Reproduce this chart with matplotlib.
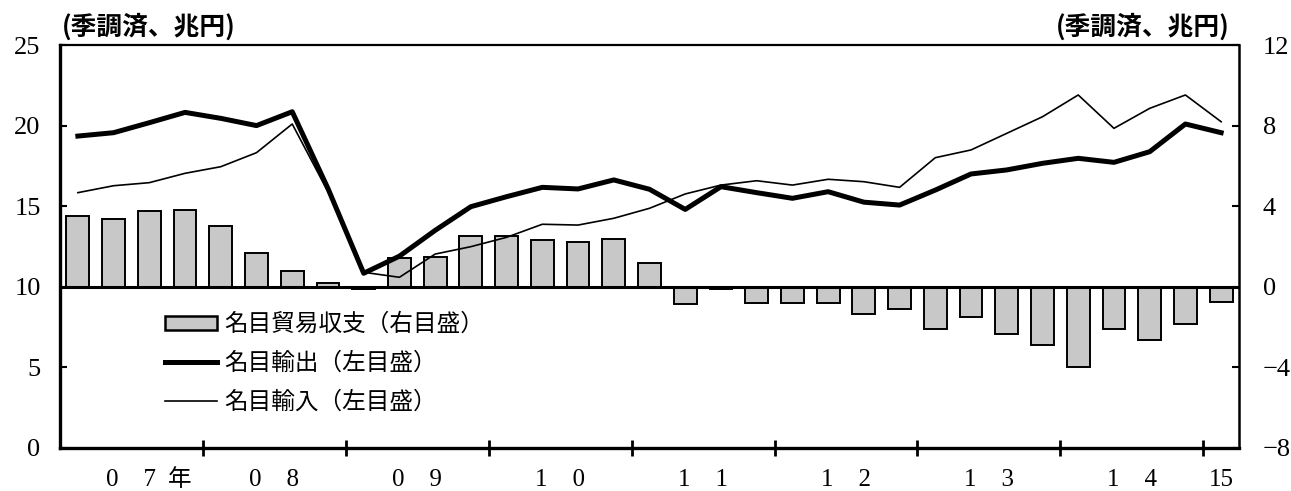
import numpy as np
import matplotlib
matplotlib.use("Agg")
import matplotlib.pyplot as plt
from matplotlib.patches import Patch
from matplotlib.lines import Line2D

# quarterly, 2007Q1 - 2015Q1
exports = [19.35, 19.56, 20.18, 20.82, 20.45, 20.0, 20.86, 16.1,
           10.84, 11.9, 13.5, 14.97, 15.59, 16.17, 16.07, 16.63,
           16.05, 14.8, 16.21, 15.84, 15.49, 15.9, 15.25, 15.07,
           16.0, 17.0, 17.25, 17.66, 17.97, 17.72, 18.38, 20.1,
           19.56]
imports = [15.84, 16.27, 16.46, 17.04, 17.45, 18.32, 20.1, 15.9,
           10.9, 10.59, 12.03, 12.49, 13.07, 13.88, 13.83, 14.25,
           14.87, 15.76, 16.31, 16.58, 16.31, 16.67, 16.52, 16.17,
           18.01, 18.49, 19.52, 20.55, 21.9, 19.83, 21.07, 21.9,
           20.24]
balance = [3.52, 3.36, 3.74, 3.79, 3.00, 1.68, 0.76, 0.21,
           -0.1, 1.42, 1.47, 2.53, 2.53, 2.30, 2.22, 2.38,
           1.18, -0.87, -0.1, -0.78, -0.81, -0.78, -1.34, -1.11,
           -2.08, -1.52, -2.33, -2.91, -3.99, -2.10, -2.66, -1.84,
           -0.76]
year_labels = ["0    7", "0    8", "0    9", "1    0", "1    1",
               "1    2", "1    3", "1    4", "15"]
left_ticks = [0, 5, 10, 15, 20, 25]
right_ticks = [-8, -4, 0, 4, 8, 12]
legend_labels = ["名目貿易収支（右目盛）", "名目輸出（左目盛）", "名目輸入（左目盛）"]
unit_label = "(季調済、兆円)"

jp = ["Noto Sans CJK JP", "DejaVu Sans"]
serif = ["Liberation Serif", "DejaVu Serif"]

x = np.arange(len(exports))

W, H = 1291, 491
fig = plt.figure(figsize=(W / 100, H / 100), dpi=100)
ax = fig.add_axes([60 / W, 43 / H, 1179 / W, 403 / H])
ax2 = ax.twinx()

# trade balance bars on the right scale
ax2.bar(x, balance, width=0.64, color="#c8c8c8", edgecolor="black", linewidth=1.4, zorder=2)
ax2.axhline(0, color="black", lw=2.2, zorder=3)
ax2.set_ylim(-8, 12)
ax2.set_yticks(right_ticks)

# exports / imports lines on the left scale, drawn over the bars
ax.set_zorder(ax2.get_zorder() + 1)
ax.patch.set_visible(False)
ax.plot(x, exports, color="black", lw=3.6)
ax.plot(x, imports, color="black", lw=1.2)
ax.set_ylim(0, 25)
ax.set_yticks(left_ticks)
ax.set_xlim(-0.5, len(x) - 0.5)

# year boundaries and year labels
bounds = np.arange(3.5, len(x) - 1, 4)
ax.set_xticks(bounds)
ax.set_xticklabels([])
ax.tick_params(axis="x", which="major", direction="inout", length=11, width=2)
mids = [1.5 + 4 * i for i in range(8)] + [len(x) - 1]
xt = ax.get_xaxis_transform()
for m, lab in zip(mids, year_labels):
    ax.text(m, -0.079, lab, transform=xt, fontsize=18, family=serif,
            ha="center", va="center")
ax.text(2.85, -0.079, "年", transform=xt, fontsize=17, family=jp,
        ha="center", va="center")

ax.tick_params(axis="y", direction="in", length=5, width=1.5, pad=14)
ax2.tick_params(axis="y", direction="in", length=5, width=1.5, pad=17)
for lab in ax.get_yticklabels() + ax2.get_yticklabels():
    lab.set_family(serif)
    lab.set_fontsize(19)

for name in ["left", "bottom"]:
    ax.spines[name].set_linewidth(2.4)
ax.spines["top"].set_linewidth(1.6)
ax.spines["right"].set_visible(False)
for name in ["left", "top", "bottom"]:
    ax2.spines[name].set_visible(False)
ax2.spines["right"].set_linewidth(1.8)

fig.text(62 / W, 1 - 27 / H, unit_label, fontsize=18.5, family=jp, weight="bold",
         ha="left", va="center")
fig.text(1230 / W, 1 - 27 / H, unit_label, fontsize=18.5, family=jp, weight="bold",
         ha="right", va="center")

handles = [Patch(facecolor="#c8c8c8", edgecolor="black", linewidth=1.8),
           Line2D([], [], color="black", lw=3.6),
           Line2D([], [], color="black", lw=1.2)]
ax.legend(handles, legend_labels, loc="upper left", bbox_to_anchor=(165 / W, 1 - 313 / H),
          bbox_transform=fig.transFigure, frameon=False, prop={"family": jp, "size": 17},
          handlelength=2.2, handleheight=0.55, handletextpad=0.3, labelspacing=0.68,
          borderpad=0, borderaxespad=0)

fig.savefig("out.png", dpi=100)
